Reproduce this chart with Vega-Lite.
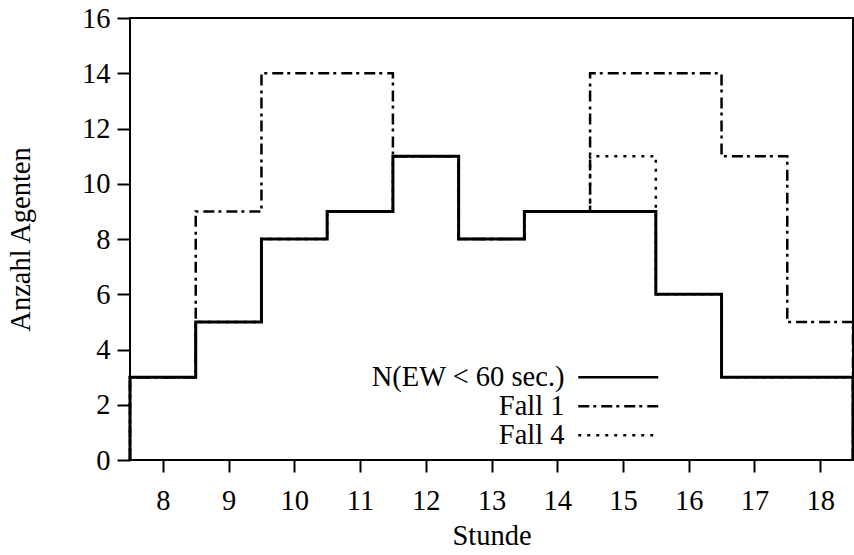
{
  "$schema": "https://vega.github.io/schema/vega-lite/v6.json",
  "width": 723,
  "height": 442,
  "autosize": {"type": "none"},
  "padding": {"left": 130, "top": 18, "right": 1, "bottom": 95},
  "background": "white",
  "config": {
    "view": {"stroke": "black", "strokeWidth": 2},
    "font": "Liberation Serif",
    "axis": {
      "grid": false,
      "domain": false,
      "tickColor": "black",
      "tickWidth": 2,
      "tickSize": 12,
      "labelFont": "Liberation Serif",
      "labelFontSize": 28.5,
      "labelColor": "black",
      "titleFont": "Liberation Serif",
      "titleFontSize": 28.5,
      "titleFontWeight": "normal",
      "titleColor": "black"
    }
  },
  "data": {
    "values": [
      {"s": "N(EW < 60 sec.)", "i": 0, "x": 7.5, "y": 0},
      {"s": "N(EW < 60 sec.)", "i": 1, "x": 7.5, "y": 3},
      {"s": "N(EW < 60 sec.)", "i": 2, "x": 8.5, "y": 5},
      {"s": "N(EW < 60 sec.)", "i": 3, "x": 9.5, "y": 8},
      {"s": "N(EW < 60 sec.)", "i": 4, "x": 10.5, "y": 9},
      {"s": "N(EW < 60 sec.)", "i": 5, "x": 11.5, "y": 11},
      {"s": "N(EW < 60 sec.)", "i": 6, "x": 12.5, "y": 8},
      {"s": "N(EW < 60 sec.)", "i": 7, "x": 13.5, "y": 9},
      {"s": "N(EW < 60 sec.)", "i": 8, "x": 15.5, "y": 6},
      {"s": "N(EW < 60 sec.)", "i": 9, "x": 16.5, "y": 3},
      {"s": "N(EW < 60 sec.)", "i": 10, "x": 18.5, "y": 0},
      {"s": "Fall 1", "i": 0, "x": 7.5, "y": 0},
      {"s": "Fall 1", "i": 1, "x": 7.5, "y": 3},
      {"s": "Fall 1", "i": 2, "x": 8.5, "y": 9},
      {"s": "Fall 1", "i": 3, "x": 9.5, "y": 14},
      {"s": "Fall 1", "i": 4, "x": 11.5, "y": 11},
      {"s": "Fall 1", "i": 5, "x": 12.5, "y": 8},
      {"s": "Fall 1", "i": 6, "x": 13.5, "y": 9},
      {"s": "Fall 1", "i": 7, "x": 14.5, "y": 14},
      {"s": "Fall 1", "i": 8, "x": 16.5, "y": 11},
      {"s": "Fall 1", "i": 9, "x": 17.5, "y": 5},
      {"s": "Fall 1", "i": 10, "x": 18.5, "y": 0},
      {"s": "Fall 4", "i": 0, "x": 7.5, "y": 0},
      {"s": "Fall 4", "i": 1, "x": 7.5, "y": 3},
      {"s": "Fall 4", "i": 2, "x": 8.5, "y": 5},
      {"s": "Fall 4", "i": 3, "x": 9.5, "y": 8},
      {"s": "Fall 4", "i": 4, "x": 10.5, "y": 9},
      {"s": "Fall 4", "i": 5, "x": 11.5, "y": 11},
      {"s": "Fall 4", "i": 6, "x": 12.5, "y": 8},
      {"s": "Fall 4", "i": 7, "x": 13.5, "y": 9},
      {"s": "Fall 4", "i": 8, "x": 14.5, "y": 11},
      {"s": "Fall 4", "i": 9, "x": 15.5, "y": 6},
      {"s": "Fall 4", "i": 10, "x": 16.5, "y": 3},
      {"s": "Fall 4", "i": 11, "x": 18.5, "y": 0}
    ]
  },
  "encoding": {
    "x": {
      "field": "x",
      "type": "quantitative",
      "scale": {"domain": [7.5, 18.5], "nice": false, "zero": false},
      "axis": {
        "title": "Stunde",
        "values": [8, 9, 10, 11, 12, 13, 14, 15, 16, 17, 18],
        "labelPadding": 14,
        "titlePadding": 7
      }
    },
    "y": {
      "field": "y",
      "type": "quantitative",
      "scale": {"domain": [0, 16], "nice": false},
      "axis": {
        "title": "Anzahl Agenten",
        "values": [0, 2, 4, 6, 8, 10, 12, 14, 16],
        "tickSize": 13,
        "labelPadding": 7,
        "titlePadding": 46
      }
    },
    "order": {"field": "i", "type": "quantitative"},
    "strokeDash": {
      "field": "s",
      "type": "nominal",
      "scale": {
        "domain": ["N(EW < 60 sec.)", "Fall 1", "Fall 4"],
        "range": [[1, 0], [11, 4, 3, 5], [3, 6]]
      },
      "legend": {
        "title": null,
        "orient": "none",
        "legendX": 474,
        "legendY": 345,
        "symbolType": "M-4,0H4",
        "symbolSize": 400,
        "symbolStrokeWidth": 2.5,
        "symbolStrokeColor": "black",
        "symbolFillColor": "transparent",
        "labelAlign": "right",
        "labelOffset": -68,
        "labelFont": "Liberation Serif",
        "labelFontSize": 28.5,
        "labelColor": "black",
        "labelLimit": 400,
        "rowPadding": 0,
        "padding": 0
      }
    }
  },
  "layer": [
    {
      "transform": [{"filter": "datum.s === 'Fall 4'"}],
      "mark": {"type": "line", "interpolate": "step-after", "color": "black", "strokeWidth": 2.5}
    },
    {
      "transform": [{"filter": "datum.s === 'Fall 1'"}],
      "mark": {"type": "line", "interpolate": "step-after", "color": "black", "strokeWidth": 2.5}
    },
    {
      "transform": [{"filter": "datum.s === 'N(EW < 60 sec.)'"}],
      "mark": {"type": "line", "interpolate": "step-after", "color": "black", "strokeWidth": 3}
    }
  ]
}
